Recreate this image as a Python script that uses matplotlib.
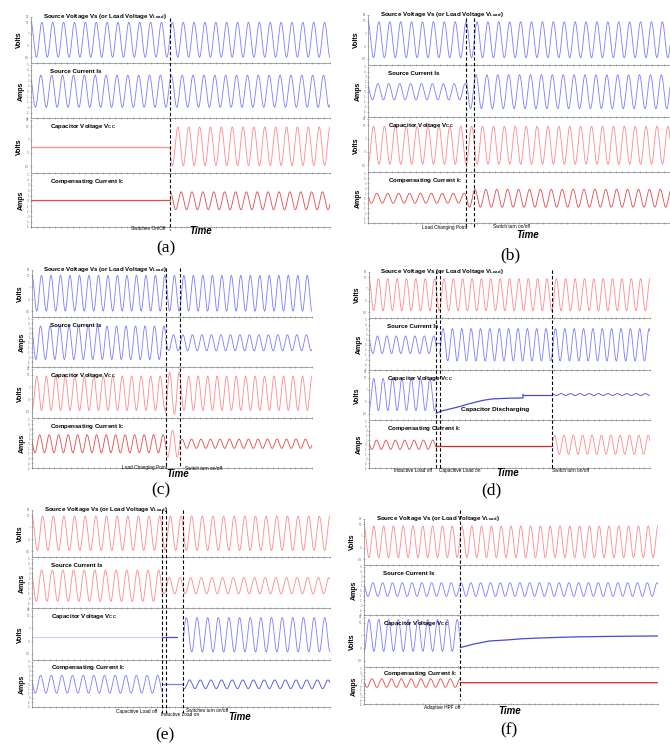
import numpy as np
import matplotlib
matplotlib.use("Agg")
import matplotlib.pyplot as plt
from matplotlib.lines import Line2D
from matplotlib.ticker import MultipleLocator
from matplotlib.transforms import blended_transform_factory

plt.rcParams['font.family'] = ['Liberation Sans', 'DejaVu Sans']
plt.rcParams['mathtext.fontset'] = 'custom'
plt.rcParams['mathtext.rm'] = 'Liberation Sans:bold'
plt.rcParams['mathtext.bf'] = 'Liberation Sans:bold'
plt.rcParams['mathtext.default'] = 'bf'

W, H = 670, 745

# ---- data ----
panel_names = ["(a)", "(b)", "(c)", "(d)", "(e)", "(f)"]
row_titles = ["Source Voltage Vs (or Load Voltage V$_{Load}$)",
              "Source Current Is",
              "Capacitor Voltage V$_{CC}$",
              "Compensating Current I$_C$"]
row_units = ["Volts", "Amps", "Volts", "Amps"]

# cycles shown across the time axis of each panel
cycles = [27.5, 27.7, 29.5, 30.0, 28.0, 30.0]
# switching instants, as fraction of the time axis
switches = [[0.465], [0.326, 0.351], [0.477, 0.529],
            [0.240, 0.252, 0.653], [0.437, 0.451, 0.507], [0.328]]

# segments: (end fraction, amplitude, offset); amplitude None = drawn from points
a_vs = [(1.0, 0.75, 0.0)]
a_is = [(1.0, 0.60, 0.0)]
a_vc = [(0.465, 0.0, -0.02), (1.0, 0.72, 0.0)]
a_ic = [(0.465, 0.0, 0.03), (1.0, 0.34, 0.0)]

b_vs = [(1.0, 0.71, 0.0)]
b_is = [(0.326, 0.32, 0.0), (1.0, 0.67, 0.0)]
b_vc = [(1.0, 0.71, 0.0)]
b_ic = [(0.326, 0.20, 0.0), (1.0, 0.36, 0.0)]

c_vs = [(1.0, 0.75, 0.0)]
c_is = [(0.477, 0.69, 0.0), (1.0, 0.33, 0.0)]
c_vc = [(0.477, 0.69, 0.0), (0.529, 0.85, 0.0), (1.0, 0.69, 0.0)]
c_ic = [(0.477, 0.37, 0.0), (0.529, 0.55, 0.0), (1.0, 0.19, 0.0)]

d_vs = [(1.0, 0.69, 0.0)]
d_is = [(0.240, 0.35, 0.0), (0.252, 0.0, 0.05), (1.0, 0.64, 0.0)]
d_vc = [(0.240, 0.66, 0.05), (0.548, None, 0.0), (0.653, 0.0, 0.05), (1.0, 0.04, 0.05)]
d_ic = [(0.240, 0.20, 0.0), (0.653, 0.0, -0.04), (1.0, 0.41, 0.0)]
d_vc_curve_t = [0.240, 0.26, 0.29, 0.324, 0.35, 0.384, 0.41, 0.44, 0.50, 0.548, 0.548]
d_vc_curve_y = [-0.72, -0.62, -0.54, -0.44, -0.35, -0.25, -0.18, -0.13, -0.10, -0.09, 0.05]

e_vs = [(1.0, 0.72, 0.0)]
e_is = [(0.437, 0.63, -0.1), (1.0, 0.33, -0.1)]
e_vc = [(0.437, 0.0, -0.1), (0.485, 0.0, -0.1), (0.507, None, 0.0), (1.0, 0.68, 0.0)]
e_ic = [(0.437, 0.39, 0.0), (0.507, 0.0, 0.0), (1.0, 0.19, 0.0)]

f_vs = [(1.0, 0.68, 0.0)]
f_is = [(1.0, 0.28, 0.05)]
f_vc = [(0.328, 0.63, 0.25), (1.0, None, 0.0)]
f_ic = [(0.328, 0.24, 0.18), (1.0, 0.0, 0.2)]
f_vc_curve_t = [0.328, 0.37, 0.427, 0.484, 0.54, 0.60, 0.71, 0.82, 1.0]
f_vc_curve_y = [-0.23, -0.10, 0.03, 0.07, 0.12, 0.15, 0.19, 0.21, 0.23]

# annotation texts under the time axis: (x px, y px, text)
notes = [
    [(148, 229, "Switches On/Off")],
    [(445, 227, "Load Changing Point"), (511, 227, "Switch turn on/off")],
    [(145, 468, "Load Changing Point"), (203, 468, "Switch turn on/off")],
    [(413, 471, "Inductive Load off"), (460, 471, "Capacitive Load on"),
     (570, 471, "Switch turn on/off")],
    [(137, 711, "Capacitive Load off"), (180, 715, "Inductive Load on"),
     (207, 711, "Switches turn on/off")],
    [(442, 707, "Adaptive HPF off")],
]

# ---- layout / style ----
BLUE = "#7c7cff"
LBLUE = "#d0d0ff"
DBLUE = "#4a4ad6"
RED = "#ff8a8a"
DRED = "#e34a4a"

x_span = [(31, 330), (368, 670), (32, 312), (369, 650), (32, 330), (364, 658)]
row_y = [[15, 63, 118, 173, 227], [13, 65, 117, 172, 223], [268, 317, 367, 418, 468],
         [270, 318, 370, 420, 468], [508, 557, 608, 660, 707], [517, 565, 615, 667, 704]]
dash_y = [(18, 230), (18, 228), (268, 468), (270, 468), (510, 713), (510, 700)]
time_xy = [(201, 231), (528, 235), (178, 474), (508, 473), (240, 717), (510, 711)]
label_xy = [(166, 248), (510, 255), (161, 490), (491, 490), (165, 735), (509, 730)]

panel_rows = [
    [(a_vs, [BLUE]), (a_is, [BLUE]), (a_vc, [RED, RED]), (a_ic, [DRED, DRED])],
    [(b_vs, [BLUE]), (b_is, [BLUE, BLUE]), (b_vc, [RED]), (b_ic, [DRED, DRED])],
    [(c_vs, [BLUE]), (c_is, [BLUE, BLUE]), (c_vc, [RED, RED, RED]), (c_ic, [DRED, RED, DRED])],
    [(d_vs, [RED]), (d_is, [BLUE, BLUE, BLUE]), (d_vc, [BLUE, None, DBLUE, DBLUE]),
     (d_ic, [DRED, "#d42a2a", RED])],
    [(e_vs, [RED]), (e_is, [RED, RED]), (e_vc, [LBLUE, DBLUE, None, BLUE]),
     (e_ic, [BLUE, BLUE, DBLUE])],
    [(f_vs, [RED]), (f_is, [BLUE]), (f_vc, [BLUE, None]), (f_ic, [DRED, "#d42a2a"])],
]
curves = {(3, 2): (d_vc_curve_t, d_vc_curve_y, DBLUE),
          (5, 2): (f_vc_curve_t, f_vc_curve_y, DBLUE)}
phases = [0.0, 0.6, 3.1, 1.2]

fig = plt.figure(figsize=(W / 100, H / 100), dpi=100)

for p in range(6):
    n = cycles[p]
    x0, x1 = x_span[p]
    axes = []
    for r in range(4):
        yt, yb = row_y[p][r], row_y[p][r + 1]
        ax = fig.add_axes([x0 / W, 1 - yb / H, (x1 - x0) / W, (yb - yt) / H - 1.5 / H])
        axes.append(ax)
        segs, cols = panel_rows[p][r]
        start = 0.0
        for (end, amp, off), col in zip(segs, cols):
            if amp is not None and col is not None:
                t = np.linspace(start * n, end * n, int((end - start) * n * 60) + 2)
                y = off + amp * np.cos(2 * np.pi * t + phases[r])
                lw = 0.9 if amp == 0.0 else 0.6
                ax.plot(t, y, color=col, lw=lw)
            start = end
        if (p, r) in curves:
            ct, cy, cc = curves[(p, r)]
            ax.plot(np.array(ct) * n, cy, color=cc, lw=0.9)
        ax.set_xlim(0, n)
        ax.set_ylim(-1, 1)
        for s in ["top", "right"]:
            ax.spines[s].set_visible(False)
        for s in ["left", "bottom"]:
            ax.spines[s].set_color("#808080")
            ax.spines[s].set_linewidth(0.5)
        ax.xaxis.set_major_locator(MultipleLocator(n / 10))
        ax.xaxis.set_minor_locator(MultipleLocator(n / 50))
        ax.set_xticklabels([])
        if row_units[r] == "Volts":
            ax.set_yticks([-0.75, -0.25, 0.25, 0.75, 1.0])
            ax.set_yticklabels(["-50", "0", "7", "50", "90"])
        else:
            yt_ = np.linspace(-1, 1, 11)
            ax.set_yticks(yt_)
            ax.set_yticklabels(["-5", "-4", "-3", "-2", "-1", "0", "1", "2", "3", "4", "5"])
        ax.tick_params(axis="both", which="both", direction="inout", color="#808080",
                       width=0.4, labelsize=2.0, labelcolor="#707070", pad=0.5)
        ax.tick_params(axis="both", which="major", length=2.0)
        ax.tick_params(axis="x", which="minor", length=1.2)
        ax.set_ylabel(row_units[r], fontsize=5, fontweight="bold", labelpad=1)
        ty = 1.0 if r == 0 else 0.86
        tx = 0.04 if r == 0 else 0.065
        ax.text(tx, ty, row_titles[r], transform=ax.transAxes, fontsize=4.4,
                fontweight="bold", va="center", ha="left")
        ax.patch.set_alpha(0)

    # dashed switching lines
    ax = axes[-1]
    tr = blended_transform_factory(ax.transData, fig.transFigure)
    for s in switches[p]:
        fig.add_artist(Line2D([s * n, s * n], [1 - dash_y[p][0] / H, 1 - dash_y[p][1] / H],
                              transform=tr, color="black", lw=0.8, ls=(0, (3, 2))))

    for (nx, ny, txt) in notes[p]:
        fig.text(nx / W, 1 - ny / H, txt, fontsize=3.4, ha="center", va="center")
    fig.text(time_xy[p][0] / W, 1 - time_xy[p][1] / H, "Time", fontsize=7,
             fontweight="bold", fontstyle="italic", ha="center", va="center")
    fig.text(label_xy[p][0] / W, 1 - label_xy[p][1] / H, panel_names[p],
             fontsize=12.5, family="Liberation Serif", ha="center", va="center")

fig.text(495 / W, 1 - 410 / H, "Capacitor Discharging", fontsize=4.6,
         fontweight="bold", ha="center", va="center")

fig.savefig("out.png", dpi=100)
